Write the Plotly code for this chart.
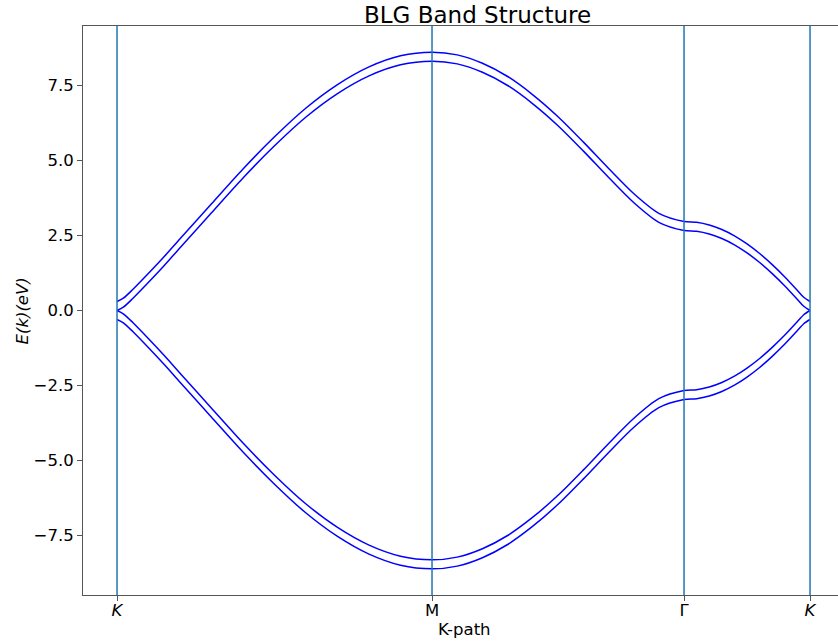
import plotly.graph_objects as go

# Path coordinate along K -> M -> Gamma -> K
k_path = [0.0, 0.05, 0.125, 0.25, 0.375, 0.5, 0.75, 1.0, 1.25, 1.5, 1.75, 2.0, 2.25, 2.5,
          2.7, 2.9, 3.1, 3.3, 3.5, 3.7, 3.9, 4.1, 4.3, 4.5,
          4.6, 4.7, 4.8, 4.9, 5.0, 5.1, 5.2, 5.3, 5.4, 5.45, 5.5]

# Conduction bands (outer / inner)
band_c_outer = [0.30, 0.41, 0.70, 1.24, 1.80, 2.39, 3.56, 4.72, 5.79, 6.75, 7.53, 8.12, 8.49, 8.61,
                8.52, 8.24, 7.80, 7.19, 6.46, 5.62, 4.74, 3.90, 3.24, 2.97,
                2.94, 2.85, 2.70, 2.49, 2.22, 1.90, 1.53, 1.12, 0.67, 0.44, 0.30]
band_c_inner = [0.00, 0.11, 0.40, 0.94, 1.50, 2.09, 3.26, 4.42, 5.49, 6.45, 7.23, 7.82, 8.19, 8.31,
                8.22, 7.94, 7.50, 6.89, 6.16, 5.32, 4.44, 3.60, 2.94, 2.67,
                2.64, 2.55, 2.40, 2.19, 1.92, 1.60, 1.23, 0.82, 0.37, 0.14, 0.00]

# Valence bands (inner / outer)
band_v_inner = [0.00, -0.11, -0.40, -0.94, -1.50, -2.09, -3.26, -4.42, -5.49, -6.45, -7.23, -7.82, -8.19, -8.31,
                -8.22, -7.94, -7.50, -6.89, -6.16, -5.32, -4.44, -3.60, -2.94, -2.67,
                -2.64, -2.55, -2.40, -2.19, -1.92, -1.60, -1.23, -0.82, -0.37, -0.14, 0.00]
band_v_outer = [-0.30, -0.41, -0.70, -1.24, -1.80, -2.39, -3.56, -4.72, -5.79, -6.75, -7.53, -8.12, -8.49, -8.61,
                -8.52, -8.24, -7.80, -7.19, -6.46, -5.62, -4.74, -3.90, -3.24, -2.97,
                -2.94, -2.85, -2.70, -2.49, -2.22, -1.90, -1.53, -1.12, -0.67, -0.44, -0.30]

# High-symmetry points
hs_positions = [0.0, 2.5, 4.5, 5.5]
hs_labels = ["<i>K</i>", "M", "Γ", "<i>K</i>"]

y_tickvals = [-7.5, -5.0, -2.5, 0.0, 2.5, 5.0, 7.5]
y_ticktext = ["\u22127.5", "\u22125.0", "\u22122.5", "0.0", "2.5", "5.0", "7.5"]

FONT = "DejaVu Sans"
BAND_COLOR = "#0000ff"
VLINE_COLOR = "#1f77b4"
AXIS_COLOR = "#555555"

fig = go.Figure()

for band in (band_c_outer, band_c_inner, band_v_inner, band_v_outer):
    fig.add_trace(go.Scatter(
        x=k_path, y=band, mode="lines",
        line=dict(color=BAND_COLOR, width=1.5, shape="spline", smoothing=0.8),
        showlegend=False, hoverinfo="skip",
    ))

for xv in hs_positions:
    fig.add_shape(type="line", xref="x", yref="paper", x0=xv, x1=xv, y0=0, y1=1,
                  line=dict(color=VLINE_COLOR, width=1.5), layer="above")

fig.update_layout(
    width=838, height=642,
    margin=dict(l=83, r=0, t=26, b=47),
    paper_bgcolor="white", plot_bgcolor="white",
    font=dict(family=FONT, color="black", size=16.5),
    showlegend=False,
    xaxis=dict(
        range=[-0.27, 5.722],
        tickvals=hs_positions, ticktext=hs_labels,
        ticks="outside", ticklen=5, tickwidth=1, tickcolor=AXIS_COLOR,
        ticklabelstandoff=-5,
        showline=True, linecolor=AXIS_COLOR, linewidth=1, mirror=True,
        showgrid=False, zeroline=False,
        tickfont=dict(size=16.5, family=FONT, color="black"),
    ),
    yaxis=dict(
        range=[-9.483, 9.483],
        tickvals=y_tickvals, ticktext=y_ticktext,
        ticks="outside", ticklen=5, tickwidth=1, tickcolor=AXIS_COLOR,
        showline=True, linecolor=AXIS_COLOR, linewidth=1, mirror=False,
        showgrid=False, zeroline=False,
        tickfont=dict(size=16.5, family=FONT, color="black"),
    ),
    annotations=[
        dict(text="BLG Band Structure", xref="paper", yref="paper",
             x=0.523, y=1.0202, xanchor="center", yanchor="middle",
             showarrow=False, font=dict(size=23, family=FONT, color="black")),
        dict(text="K-path", xref="paper", yref="paper",
             x=0.5053, y=-0.0598, xanchor="center", yanchor="middle",
             showarrow=False, font=dict(size=16.5, family=FONT, color="black")),
        dict(text="<i>E(k)(eV)</i>", xref="paper", yref="paper",
             x=-0.0795, y=0.5, xanchor="center", yanchor="middle", textangle=-90,
             showarrow=False, font=dict(size=16.5, family=FONT, color="black")),
    ],
)

fig.write_html("out.html")
